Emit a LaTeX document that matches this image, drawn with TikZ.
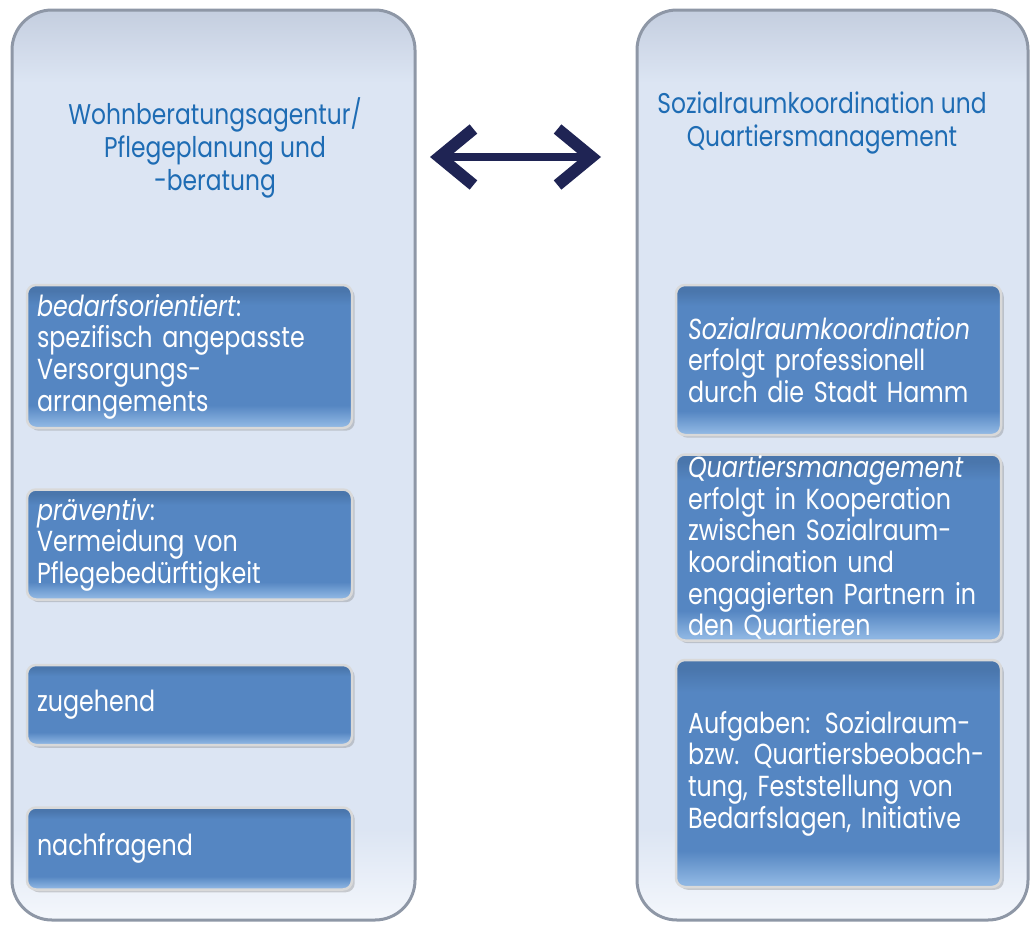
\documentclass[tikz,border=0pt]{standalone}
\usepackage{fontspec}
\setmainfont[FakeStretch=0.82]{Poppins}
\usetikzlibrary{arrows.meta,positioning,shadows}

\definecolor{panelfill}{HTML}{DCE5F3}
\definecolor{paneltop}{HTML}{C4CEDF}
\definecolor{panelbot}{HTML}{F4F7FC}
\definecolor{panelline}{HTML}{8E97A6}
\definecolor{boxtop}{HTML}{4A76AC}
\definecolor{boxmid}{HTML}{5586C2}
\definecolor{boxbot}{HTML}{8DB5E2}
\definecolor{titleblue}{HTML}{1E6CB4}
\definecolor{navy}{HTML}{1F2454}

% bevel look: dark rim on top, light rim at the bottom
% (tikz maps the 25bp--75bp part of a shading onto the path)
\pgfdeclareverticalshading{kastenshade}{100bp}{
  color(0bp)=(boxbot); color(26bp)=(boxbot); color(33bp)=(boxmid);
  color(68bp)=(boxmid); color(73bp)=(boxtop); color(100bp)=(boxtop)}
\pgfdeclareverticalshading{panelshade}{100bp}{
  color(0bp)=(panelbot); color(25bp)=(panelbot); color(30bp)=(panelfill);
  color(71bp)=(panelfill); color(75bp)=(paneltop); color(100bp)=(paneltop)}

\tikzset{
  panel/.style={draw=panelline, line width=3pt, rounded corners=40pt,
    shading=panelshade, minimum height=910pt},
  kasten/.style={draw=white!85!black, line width=2.5pt, rounded corners=9pt,
    shading=kastenshade, text=white, align=left, text width=305pt,
    inner xsep=10pt, inner ysep=2pt,
    font=\fontsize{29}{31.6}\selectfont, drop shadow={opacity=0.35}},
  titel/.style={text=titleblue, align=center,
    font=\fontsize{28.5}{33}\selectfont},
  twoway/.style={draw=navy, line width=8pt,
    {Straight Barb[length=34pt,width=56pt,line width=12pt]}-{Straight Barb[length=34pt,width=56pt,line width=12pt]}}
}

\begin{document}
\begin{tikzpicture}[x=1pt,y=-1pt]
  \useasboundingbox (0,0) rectangle (1030,926);

  % the two panels
  \node[panel, minimum width=403pt] (agentur) at (213.5,465) {};
  \node[panel, minimum width=391pt] (quartier) at (832.5,465) {};

  \node[titel] (agenturtitel) at (215,148)
    {Wohnberatungsagentur/\\Pflegeplanung und\\-beratung};
  \node[titel] (quartiertitel) at (822,123)
    {Sozialraumkoordination und\\Quartiersmanagement};

  % left column
  \node[kasten, minimum height=143pt] (bedarf) at (189.5,356.5)
    {\textit{bedarfsorientiert}:\\spezifisch angepasste\\Versorgungs-\\arrangements};
  \node[kasten, minimum height=110pt, below = 59pt of bedarf] (praeventiv)
    {\textit{präventiv}:\\Vermeidung von\\Pflegebedürftigkeit};
  \node[kasten, minimum height=80pt, below = 63pt of praeventiv] (zugehend)
    {zugehend};
  \node[kasten, minimum height=82pt, below = 60pt of zugehend] (nachfragend)
    {nachfragend};

  % right column
  \node[kasten, minimum height=150pt, inner xsep=12pt, text width=301pt] (koordination) at (838.5,360)
    {\textit{Sozialraumkoordination}\\erfolgt professionell\\durch die Stadt Hamm};
  \node[kasten, minimum height=186pt, inner xsep=12pt, inner ysep=0pt, text width=301pt,
    below = 17pt of koordination] (management)
    {\textit{Quartiersmanagement}\\erfolgt in Kooperation\\zwischen Sozialraum-\\koordination und\\engagierten Partnern in\\den Quartieren};
  \node[kasten, minimum height=227pt, inner xsep=12pt, text width=301pt,
    below = 17pt of management] (aufgaben)
    {Aufgaben: Sozialraum-\\bzw. Quartiersbeobach-\\tung, Feststellung von\\Bedarfslagen, Initiative};

  % link between the panels
  \coordinate (pfeilA) at (430,157);
  \coordinate (pfeilB) at (601,157);
  \draw[twoway] (pfeilA) -- (pfeilB);
\end{tikzpicture}
\end{document}
